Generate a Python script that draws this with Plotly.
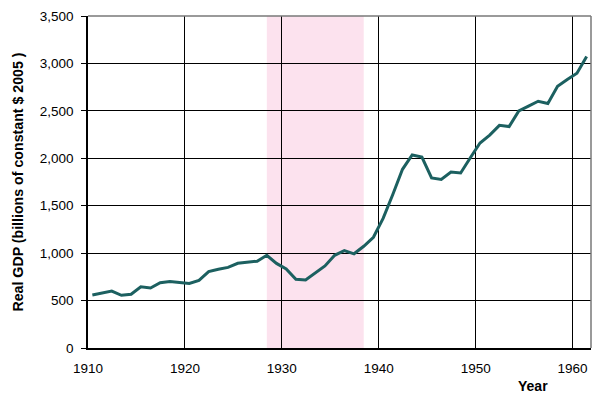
import plotly.graph_objects as go

years = list(range(1911, 1963))
gdp = [559, 577, 600, 556, 566, 645, 632, 688, 700, 690, 680, 713, 805, 830, 850,
       893, 905, 915, 977, 892, 834, 725, 716, 794, 865, 977, 1027, 993, 1072, 1167,
       1366, 1618, 1884, 2035, 2012, 1793, 1777, 1855, 1845, 2006, 2161, 2244, 2347,
       2334, 2500, 2550, 2601, 2578, 2758, 2830, 2896, 3072]
shade_years = [1929, 1939]
x_ticks = [1910, 1920, 1930, 1940, 1950, 1960]
y_ticks = [0, 500, 1000, 1500, 2000, 2500, 3000, 3500]

offset = -0.55  # category-centered positions as in original chart
xpos = [y + offset for y in years]

fig = go.Figure()
fig.add_vrect(x0=shade_years[0] + offset, x1=shade_years[1] + offset,
              fillcolor="rgb(252,226,238)", line_width=0, layer="below")
fig.add_trace(go.Scatter(x=xpos, y=gdp, mode="lines",
                         line=dict(color="rgb(28,96,96)", width=3),
                         showlegend=False, hoverinfo="skip"))

# top and right borders (gray)
fig.add_shape(type="line", xref="x domain", yref="y domain", x0=0, x1=1, y0=1, y1=1,
              line=dict(color="rgb(120,120,120)", width=1.5))
fig.add_shape(type="line", xref="x domain", yref="y domain", x0=1, x1=1, y0=0, y1=1,
              line=dict(color="rgb(120,120,120)", width=1.5))

fig.update_layout(
    width=600, height=397,
    margin=dict(l=88, r=9, t=12, b=49),
    paper_bgcolor="white", plot_bgcolor="white",
    font=dict(family="Liberation Sans, Arial, sans-serif", size=13.5, color="black"),
    xaxis=dict(range=[1910, 1961.9], tickvals=x_ticks, showgrid=True,
               gridcolor="black", gridwidth=1, showline=True, linecolor="black",
               linewidth=1.5, zeroline=False, ticks="", ticklabelstandoff=7,
               tickfont=dict(size=13.5)),
    yaxis=dict(range=[0, 3500], tickvals=y_ticks, tickformat=",d", showgrid=True,
               gridcolor="black", gridwidth=1, showline=True, linecolor="black",
               linewidth=1.5, zeroline=False, ticks="outside", ticklen=5,
               tickcolor="black", tickfont=dict(size=13.5), ticklabelstandoff=5,
               title=dict(text="<b>Real GDP (billions of constant $ 2005 )</b>",
                          font=dict(size=14.2), standoff=13)),
    annotations=[dict(text="<b>Year</b>", xref="paper", yref="paper",
                      x=0.885, y=-0.113, xanchor="center", yanchor="middle",
                      showarrow=False, font=dict(size=14))],
)

fig.write_html("out.html")
